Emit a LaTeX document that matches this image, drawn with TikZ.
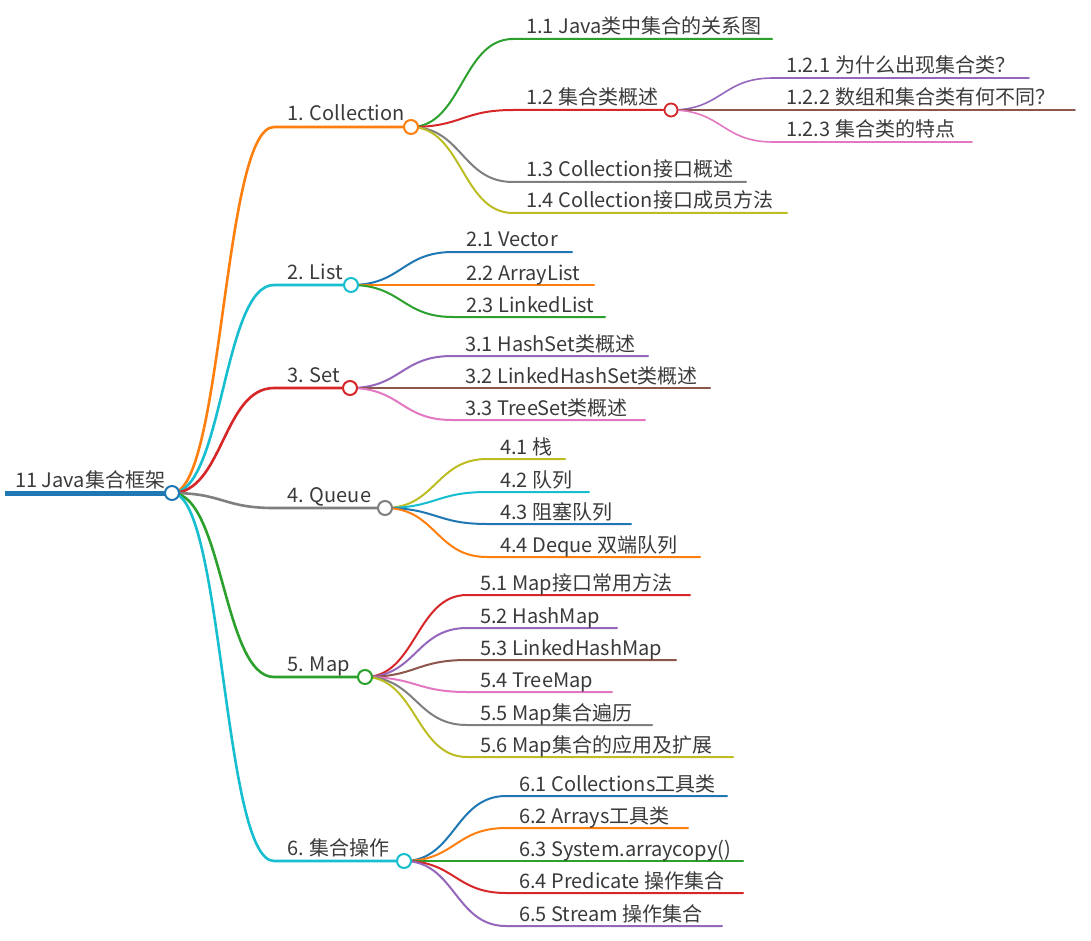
\documentclass[tikz,border=0pt]{standalone}
\usepackage{fontspec}
\setmainfont{Noto Sans CJK SC}
\usepackage{xcolor}
\usetikzlibrary{calc,backgrounds}

\definecolor{mmblue}{HTML}{1F77B4}
\definecolor{mmorange}{HTML}{FF7F0E}
\definecolor{mmgreen}{HTML}{2CA02C}
\definecolor{mmred}{HTML}{D62728}
\definecolor{mmpurple}{HTML}{9467BD}
\definecolor{mmbrown}{HTML}{8C564B}
\definecolor{mmpink}{HTML}{E377C2}
\definecolor{mmgray}{HTML}{7F7F7F}
\definecolor{mmolive}{HTML}{BCBD22}
\definecolor{mmcyan}{HTML}{17BECF}
\definecolor{mmtext}{HTML}{3A3A3A}

\tikzset{
  mmlink/.style={to path={let \p1=(\tikztostart), \p2=(\tikztotarget), \n1={(\x1+\x2)/2} in
    .. controls (\n1,\y1) and (\n1,\y2) .. (\tikztotarget)}},
  lvl1/.style={line width=2.6pt, line cap=round},
  lvl2/.style={line width=2pt, line cap=round},
  lvl3/.style={line width=1.6pt, line cap=round},
  dot/.style={circle, draw, fill=white, line width=2pt, minimum size=14pt, inner sep=0pt},
  lbl/.style={anchor=base west, inner sep=0pt, text=mmtext, font=\fontsize{20}{24}\selectfont},
}

\begin{document}
\begin{tikzpicture}[x=1pt, y=-1pt]
\useasboundingbox (0,0) rectangle (1091,941);

% root
\coordinate (rootA) at (5,493);
\node[dot, draw=mmblue] (root) at (172,493) {};
\node[lbl] (rootT) at (15,487) {11 Java集合框架};

% level 1
\coordinate (c1a) at (274,127);
\node[dot, draw=mmorange] (c1) at (411,127) {};
\node[lbl] (c1T) at (287,121) {1. Collection};
\coordinate (c2a) at (274,285);
\node[dot, draw=mmcyan] (c2) at (351,285) {};
\node[lbl] (c2T) at (287,279) {2. List};
\coordinate (c3a) at (274,388);
\node[dot, draw=mmred] (c3) at (350,388) {};
\node[lbl] (c3T) at (287,382) {3. Set};
\coordinate (c4a) at (274,508);
\node[dot, draw=mmgray] (c4) at (385,508) {};
\node[lbl] (c4T) at (287,502) {4. Queue};
\coordinate (c5a) at (274,677);
\node[dot, draw=mmgreen] (c5) at (365,677) {};
\node[lbl] (c5T) at (287,671) {5. Map};
\coordinate (c6a) at (274,861);
\node[dot, draw=mmcyan] (c6) at (404,861) {};
\node[lbl] (c6T) at (287,855) {6. 集合操作};

% 1. Collection
\coordinate (c11a) at (513,39); \coordinate (c11b) at (772,39);
\node[lbl] (c11) at (526,34) {1.1 Java类中集合的关系图};
\coordinate (c12a) at (513,110);
\node[dot, draw=mmred, line width=1.8pt, minimum size=13pt] (c12) at (671,110) {};
\node[lbl] (c12T) at (526,105) {1.2 集合类概述};
\coordinate (c13a) at (513,182); \coordinate (c13b) at (746,182);
\node[lbl] (c13) at (526,177) {1.3 Collection接口概述};
\coordinate (c14a) at (513,213); \coordinate (c14b) at (787,213);
\node[lbl] (c14) at (526,208) {1.4 Collection接口成员方法};

% 1.2
\coordinate (c121a) at (773,78); \coordinate (c121b) at (1029,78);
\node[lbl] (c121) at (786,73) {1.2.1 为什么出现集合类？};
\coordinate (c122a) at (773,110); \coordinate (c122b) at (1075,110);
\node[lbl] (c122) at (786,105) {1.2.2 数组和集合类有何不同？};
\coordinate (c123a) at (773,142); \coordinate (c123b) at (972,142);
\node[lbl] (c123) at (786,137) {1.2.3 集合类的特点};

% 2. List
\coordinate (c21a) at (453,252); \coordinate (c21b) at (572,252);
\node[lbl] (c21) at (466,247) {2.1 Vector};
\coordinate (c22a) at (453,285); \coordinate (c22b) at (594,285);
\node[lbl] (c22) at (466,280) {2.2 ArrayList};
\coordinate (c23a) at (453,317); \coordinate (c23b) at (605,317);
\node[lbl] (c23) at (466,312) {2.3 LinkedList};

% 3. Set
\coordinate (c31a) at (452,356); \coordinate (c31b) at (648,356);
\node[lbl] (c31) at (465,351) {3.1 HashSet类概述};
\coordinate (c32a) at (452,388); \coordinate (c32b) at (710,388);
\node[lbl] (c32) at (465,383) {3.2 LinkedHashSet类概述};
\coordinate (c33a) at (452,420); \coordinate (c33b) at (645,420);
\node[lbl] (c33) at (465,415) {3.3 TreeSet类概述};

% 4. Queue
\coordinate (c41a) at (487,459); \coordinate (c41b) at (565,459);
\node[lbl] (c41) at (500,454) {4.1 栈};
\coordinate (c42a) at (487,492); \coordinate (c42b) at (589,492);
\node[lbl] (c42) at (500,487) {4.2 队列};
\coordinate (c43a) at (487,524); \coordinate (c43b) at (631,524);
\node[lbl] (c43) at (500,519) {4.3 阻塞队列};
\coordinate (c44a) at (487,557); \coordinate (c44b) at (700,557);
\node[lbl] (c44) at (500,552) {4.4 Deque 双端队列};

% 5. Map
\coordinate (c51a) at (467,595); \coordinate (c51b) at (690,595);
\node[lbl] (c51) at (480,590) {5.1 Map接口常用方法};
\coordinate (c52a) at (467,628); \coordinate (c52b) at (617,628);
\node[lbl] (c52) at (480,623) {5.2 HashMap};
\coordinate (c53a) at (467,660); \coordinate (c53b) at (676,660);
\node[lbl] (c53) at (480,655) {5.3 LinkedHashMap};
\coordinate (c54a) at (467,692); \coordinate (c54b) at (612,692);
\node[lbl] (c54) at (480,687) {5.4 TreeMap};
\coordinate (c55a) at (467,725); \coordinate (c55b) at (652,725);
\node[lbl] (c55) at (480,720) {5.5 Map集合遍历};
\coordinate (c56a) at (467,757); \coordinate (c56b) at (733,757);
\node[lbl] (c56) at (480,752) {5.6 Map集合的应用及扩展};

% 6. 集合操作
\coordinate (c61a) at (506,796); \coordinate (c61b) at (727,796);
\node[lbl] (c61) at (519,791) {6.1 Collections工具类};
\coordinate (c62a) at (506,828); \coordinate (c62b) at (688,828);
\node[lbl] (c62) at (519,823) {6.2 Arrays工具类};
\coordinate (c63a) at (506,861); \coordinate (c63b) at (743,861);
\node[lbl] (c63) at (519,856) {6.3 System.arraycopy()};
\coordinate (c64a) at (506,893); \coordinate (c64b) at (743,893);
\node[lbl] (c64) at (519,888) {6.4 Predicate 操作集合};
\coordinate (c65a) at (506,926); \coordinate (c65b) at (722,926);
\node[lbl] (c65) at (519,921) {6.5 Stream 操作集合};

\begin{pgfonlayer}{background}
\draw[line width=5pt, mmblue] (rootA) -- (root.center);
% root links
\draw[lvl1, mmorange] (root.center) to[mmlink] (c1a) -- (c1.center);
\draw[lvl1, mmcyan] (root.center) to[mmlink] (c2a) -- (c2.center);
\draw[lvl1, mmred] (root.center) to[mmlink] (c3a) -- (c3.center);
\draw[lvl1, mmgray] (root.center) to[mmlink] (c4a) -- (c4.center);
\draw[lvl1, mmgreen] (root.center) to[mmlink] (c5a) -- (c5.center);
\draw[lvl1, mmcyan] (root.center) to[mmlink] (c6a) -- (c6.center);
% collection
\draw[lvl2, mmgreen] (c1.center) to[mmlink] (c11a) -- (c11b);
\draw[lvl2, mmred] (c1.center) to[mmlink] (c12a) -- (c12.center);
\draw[lvl2, mmgray] (c1.center) to[mmlink] (c13a) -- (c13b);
\draw[lvl2, mmolive] (c1.center) to[mmlink] (c14a) -- (c14b);
\draw[lvl3, mmpurple] (c12.center) to[mmlink] (c121a) -- (c121b);
\draw[lvl3, mmbrown] (c12.center) to[mmlink] (c122a) -- (c122b);
\draw[lvl3, mmpink] (c12.center) to[mmlink] (c123a) -- (c123b);
% list
\draw[lvl2, mmblue] (c2.center) to[mmlink] (c21a) -- (c21b);
\draw[lvl2, mmorange] (c2.center) to[mmlink] (c22a) -- (c22b);
\draw[lvl2, mmgreen] (c2.center) to[mmlink] (c23a) -- (c23b);
% set
\draw[lvl2, mmpurple] (c3.center) to[mmlink] (c31a) -- (c31b);
\draw[lvl2, mmbrown] (c3.center) to[mmlink] (c32a) -- (c32b);
\draw[lvl2, mmpink] (c3.center) to[mmlink] (c33a) -- (c33b);
% queue
\draw[lvl2, mmolive] (c4.center) to[mmlink] (c41a) -- (c41b);
\draw[lvl2, mmcyan] (c4.center) to[mmlink] (c42a) -- (c42b);
\draw[lvl2, mmblue] (c4.center) to[mmlink] (c43a) -- (c43b);
\draw[lvl2, mmorange] (c4.center) to[mmlink] (c44a) -- (c44b);
% map
\draw[lvl2, mmred] (c5.center) to[mmlink] (c51a) -- (c51b);
\draw[lvl2, mmpurple] (c5.center) to[mmlink] (c52a) -- (c52b);
\draw[lvl2, mmbrown] (c5.center) to[mmlink] (c53a) -- (c53b);
\draw[lvl2, mmpink] (c5.center) to[mmlink] (c54a) -- (c54b);
\draw[lvl2, mmgray] (c5.center) to[mmlink] (c55a) -- (c55b);
\draw[lvl2, mmolive] (c5.center) to[mmlink] (c56a) -- (c56b);
% ops
\draw[lvl2, mmblue] (c6.center) to[mmlink] (c61a) -- (c61b);
\draw[lvl2, mmorange] (c6.center) to[mmlink] (c62a) -- (c62b);
\draw[lvl2, mmgreen] (c6.center) to[mmlink] (c63a) -- (c63b);
\draw[lvl2, mmred] (c6.center) to[mmlink] (c64a) -- (c64b);
\draw[lvl2, mmpurple] (c6.center) to[mmlink] (c65a) -- (c65b);
\end{pgfonlayer}
\end{tikzpicture}
\end{document}
